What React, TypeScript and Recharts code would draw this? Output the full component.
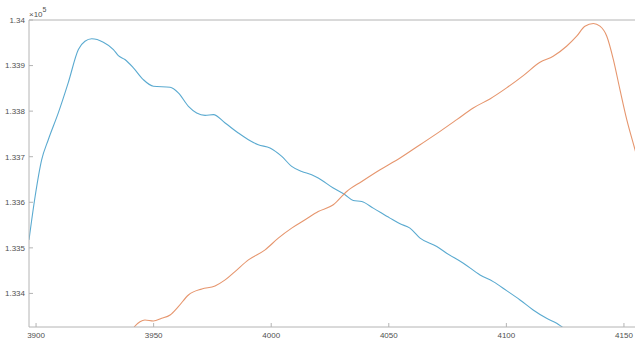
import { LineChart, Line, XAxis, YAxis, Label } from 'recharts';

// x positions and values (y in raw units, axis shows ×10^5)
const blueX = [
    3897.0, 3899.6, 3902.4, 3905.2, 3909.5, 3913.7, 3918.0, 3920.8, 3923.7, 3928.6,
    3932.9, 3935.0, 3937.8, 3941.4, 3945.6, 3949.9, 3957.0, 3960.5, 3964.8, 3968.3,
    3971.9, 3975.4, 3980.4, 3986.0, 3990.3, 3994.5, 3999.5, 4004.5, 4008.7, 4013.0,
    4017.2, 4020.0, 4026.4, 4031.4, 4034.9, 4038.5, 4043.4, 4050.5, 4054.8, 4059.0,
    4063.3, 4070.4, 4074.6, 4081.7, 4088.8, 4094.4, 4100.1, 4105.8, 4111.4, 4117.1,
    4121.4, 4123.5, 4126.0,
];
const blueY = [
    133517.5, 133612.7, 133693.4, 133737.3, 133796.7, 133862.6, 133935.2, 133953.4, 133958.7, 133951.2,
    133935.2, 133922.0, 133913.2, 133894.9, 133869.2, 133854.5, 133852.3, 133840.0, 133810.5, 133796.0,
    133790.8, 133792.3, 133774.0, 133752.1, 133737.3, 133726.3, 133719.1, 133700.6, 133678.7, 133667.7,
    133660.4, 133653.2, 133631.2, 133616.4, 133603.9, 133601.7, 133587.2, 133565.2, 133552.7, 133543.3,
    133521.3, 133502.8, 133488.3, 133466.3, 133440.6, 133425.9, 133406.1, 133385.7, 133363.7, 133345.4,
    133334.4, 133327.0, 133318.0,
];

const orangeX = [
    3940.5, 3942.1, 3944.2, 3946.3, 3949.9, 3953.4, 3957.0, 3960.5, 3964.8, 3970.5,
    3976.1, 3980.4, 3984.6, 3990.3, 3997.4, 4003.0, 4008.7, 4014.4, 4020.0, 4026.4,
    4032.1, 4038.5, 4046.3, 4054.8, 4063.3, 4071.8, 4078.9, 4085.9, 4093.0, 4100.1,
    4107.2, 4114.3, 4119.9, 4125.6, 4129.9, 4133.4, 4137.0, 4139.8, 4142.7, 4145.5,
    4148.3, 4151.2, 4154.7, 4157.0,
];
const orangeY = [
    133315.0, 133328.5, 133338.0, 133341.7, 133339.5, 133345.4, 133352.7, 133370.9, 133396.6, 133409.8,
    133416.4, 133429.6, 133447.9, 133473.6, 133495.6, 133521.3, 133543.3, 133561.5, 133579.7, 133594.5,
    133623.7, 133645.7, 133671.4, 133697.1, 133726.3, 133755.6, 133781.3, 133807.0, 133826.8, 133851.0,
    133878.0, 133907.2, 133920.4, 133942.4, 133964.4, 133986.4, 133992.3, 133986.4, 133964.4, 133913.2,
    133847.2, 133781.3, 133715.4, 133670.0,
];

const xTicks = [3900, 3950, 4000, 4050, 4100, 4150];
const yTicks = [133400, 133500, 133600, 133700, 133800, 133900, 134000];

const X_DOMAIN = [3897.0, 4154.7];
const Y_DOMAIN = [133326.3, 134000];

const blueData = blueX.map((x, i) => ({ x, y: blueY[i] }));
const orangeData = orangeX.map((x, i) => ({ x, y: orangeY[i] }));

const AXIS = '#b4b4b4';
const TEXT = '#505050';
const FONT = "'Liberation Sans', Arial, sans-serif";

// "×10^5" exponent label above the y axis
function ExponentLabel(props: any) {
    const vb = props.viewBox || {};
    const x = (vb.x ?? 28) + (vb.width ?? 1);
    const y = vb.y ?? 20;
    return (
        <text x={x} y={y - 3} fill={TEXT} fontSize={8} fontFamily={FONT}>
            ×10
            <tspan dy={-5} fontSize={7}>5</tspan>
        </text>
    );
}

export default function App() {
    return (
        <div style={{ position: 'absolute', left: 0, top: 0, width: 635, height: 342, background: '#fff' }}>
            <LineChart
                width={635}
                height={342}
                margin={{ top: 19, right: 0, bottom: 14, left: 28 }}
            >
                <XAxis
                    dataKey="x"
                    type="number"
                    domain={X_DOMAIN}
                    allowDataOverflow
                    ticks={xTicks}
                    height={1}
                    stroke={AXIS}
                    tickSize={-4}
                    tickMargin={9}
                    tick={{ fill: TEXT, fontSize: 8, fontFamily: FONT }}
                />
                <XAxis
                    xAxisId="top"
                    orientation="top"
                    dataKey="x"
                    type="number"
                    domain={X_DOMAIN}
                    allowDataOverflow
                    ticks={xTicks}
                    height={1}
                    stroke={AXIS}
                    tickSize={-4}
                    tick={false}
                />
                <YAxis
                    type="number"
                    domain={Y_DOMAIN}
                    allowDataOverflow
                    ticks={yTicks}
                    width={1}
                    stroke={AXIS}
                    tickSize={-4}
                    tickMargin={8}
                    tick={{ fill: TEXT, fontSize: 8, fontFamily: FONT }}
                    tickFormatter={(v: number) => String(+(v / 1e5).toFixed(3))}
                >
                    <Label content={ExponentLabel} />
                </YAxis>
                <Line
                    data={blueData}
                    dataKey="y"
                    type="monotone"
                    stroke="#5aaad0"
                    strokeWidth={1.1}
                    dot={false}
                    isAnimationActive={false}
                />
                <Line
                    data={orangeData}
                    dataKey="y"
                    type="monotone"
                    stroke="#e6966e"
                    strokeWidth={1.1}
                    dot={false}
                    isAnimationActive={false}
                />
            </LineChart>
        </div>
    );
}
